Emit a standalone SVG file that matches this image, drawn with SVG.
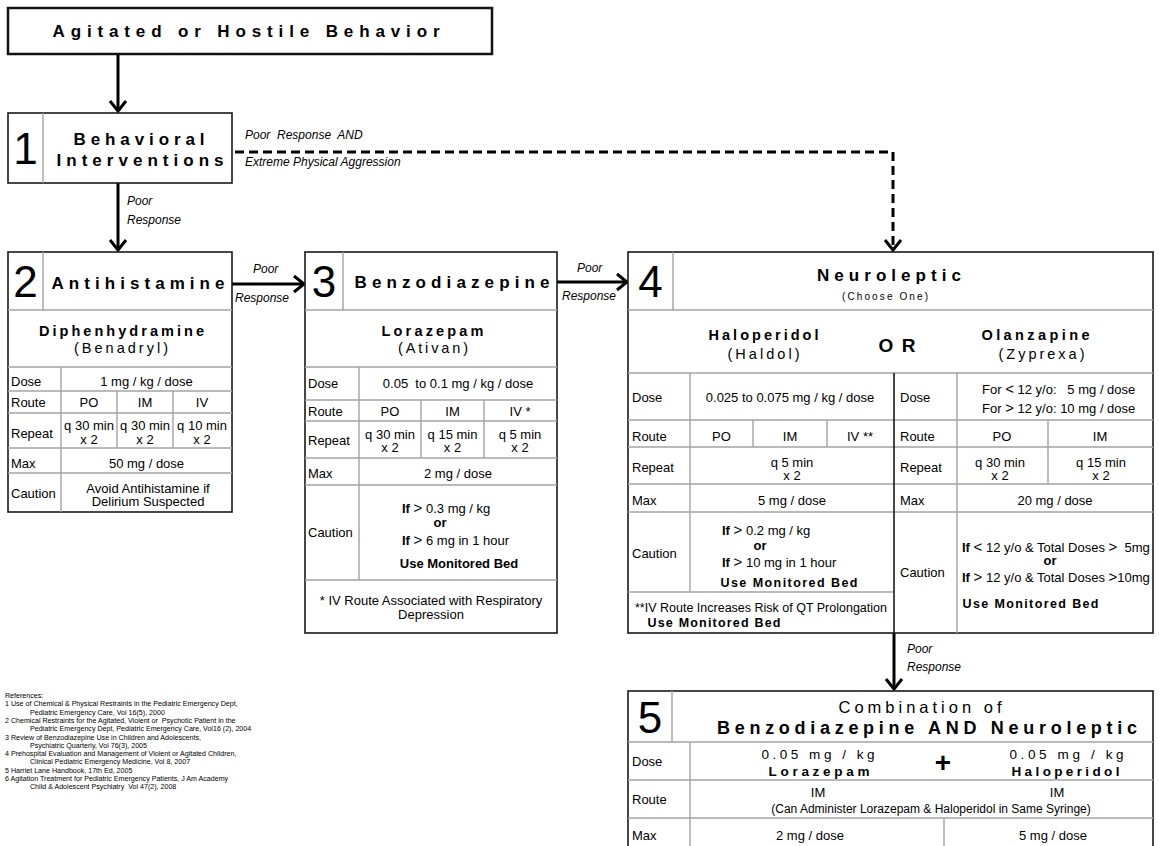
<svg xmlns="http://www.w3.org/2000/svg" width="1159" height="846" viewBox="0 0 1159 846">
<style>
.t{font-family:"Liberation Sans",Arial,sans-serif;font-size:13px;fill:#000}
.c{text-anchor:middle}
.b{font-weight:bold}
.i{font-style:italic;font-size:12px}
.num{font-size:44px}
.ref{font-size:7.1px}
.box{fill:#fff;stroke:#1a1a1a;stroke-width:1.6}
.grid{stroke:#a3a3a3;stroke-width:1.4}
.dark{stroke:#1a1a1a;stroke-width:1.6}
.gt{font-size:15px}
.h1{font-size:17px}
.h2{font-size:14.5px}
.mb{font-size:12.5px}
.conn{fill:none;stroke:#000;stroke-width:3}
.dash{stroke-dasharray:9 5}
</style>
<defs>
<marker id="arr" markerUnits="userSpaceOnUse" markerWidth="22" markerHeight="22" viewBox="0 0 22 22" refX="18" refY="11" orient="auto">
<path d="M8,3 L18,11 L8,19" fill="none" stroke="#000" stroke-width="3"/>
</marker>
</defs>
<rect width="1159" height="846" fill="#fff"/>

<g id="connectors">
<line class="conn" x1="118" y1="54" x2="118" y2="111" marker-end="url(#arr)"/>
<line class="conn" x1="118" y1="183" x2="118" y2="250" marker-end="url(#arr)"/>
<line class="conn" x1="232" y1="284" x2="304" y2="284" marker-end="url(#arr)"/>
<line class="conn" x1="557" y1="282" x2="627" y2="282" marker-end="url(#arr)"/>
<line class="conn" x1="894" y1="633" x2="894" y2="689" marker-end="url(#arr)"/>
<path class="conn dash" d="M235,152 H893 V250" marker-end="url(#arr)"/>
<text x="127" y="205" class="t i">Poor</text>
<text x="127" y="224" class="t i">Response</text>
<text x="245" y="139" class="t i" xml:space="preserve">Poor  Response  AND</text>
<text x="245" y="166" class="t i">Extreme Physical Aggression</text>
<text x="253" y="273" class="t i">Poor</text>
<text x="235" y="302" class="t i">Response</text>
<text x="577" y="272" class="t i">Poor</text>
<text x="562" y="300" class="t i">Response</text>
<text x="907" y="653" class="t i">Poor</text>
<text x="907" y="671" class="t i">Response</text>
</g>

<g id="start">
<rect x="8" y="8" width="484" height="46" fill="#fff" stroke="#111" stroke-width="2.5"/>
<text x="246" y="37" class="t c b h1" textLength="387" lengthAdjust="spacing">Agitated or Hostile Behavior</text>
</g>

<g id="step1">
<rect x="8" y="113" width="224" height="70" class="box"/>
<line x1="43" y1="113" x2="43" y2="183" class="grid"/>
<text x="25.5" y="164" class="t c num">1</text>
<text x="139" y="145" class="t c b h1" textLength="131" lengthAdjust="spacing">Behavioral</text>
<text x="140" y="166" class="t c b h1" textLength="167" lengthAdjust="spacing">Interventions</text>
</g>

<g id="step2">
<rect x="8" y="252" width="224" height="260" class="box"/>
<line x1="43" y1="252" x2="43" y2="310" class="grid"/>
<line x1="8" y1="310" x2="232" y2="310" class="grid"/>
<line x1="8" y1="367" x2="232" y2="367" class="grid"/>
<line x1="8" y1="391" x2="232" y2="391" class="grid"/>
<line x1="8" y1="413" x2="232" y2="413" class="grid"/>
<line x1="8" y1="448" x2="232" y2="448" class="grid"/>
<line x1="8" y1="473" x2="232" y2="473" class="grid"/>
<line x1="61" y1="367" x2="61" y2="512" class="grid"/>
<line x1="117" y1="391" x2="117" y2="448" class="grid"/>
<line x1="173" y1="391" x2="173" y2="448" class="grid"/>
<text x="25.5" y="297" class="t c num">2</text>
<text x="138" y="289" class="t c b h1" textLength="173" lengthAdjust="spacing">Antihistamine</text>
<text x="121.5" y="336" class="t c b h2" textLength="165" lengthAdjust="spacing">Diphenhydramine</text>
<text x="121" y="353" class="t c h2" textLength="94" lengthAdjust="spacing">(Benadryl)</text>
<text x="11" y="385.5" class="t">Dose</text>
<text x="146.5" y="385.5" class="t c">1 mg / kg / dose</text>
<text x="11" y="406.5" class="t">Route</text>
<text x="89" y="406.5" class="t c">PO</text>
<text x="145" y="406.5" class="t c">IM</text>
<text x="202" y="406.5" class="t c">IV</text>
<text x="11" y="437.5" class="t">Repeat</text>
<text x="89" y="429.5" class="t c">q 30 min</text>
<text x="89" y="443.5" class="t c">x 2</text>
<text x="145" y="429.5" class="t c">q 30 min</text>
<text x="145" y="443.5" class="t c">x 2</text>
<text x="202" y="429.5" class="t c">q 10 min</text>
<text x="202" y="443.5" class="t c">x 2</text>
<text x="11" y="467.5" class="t">Max</text>
<text x="146.5" y="467.5" class="t c">50 mg / dose</text>
<text x="11" y="497.5" class="t">Caution</text>
<text x="148" y="492.5" class="t c">Avoid Antihistamine if</text>
<text x="148" y="505.5" class="t c">Delirium Suspected</text>
</g>

<g id="step3">
<rect x="305" y="252" width="252" height="381" class="box"/>
<line x1="343" y1="252" x2="343" y2="310" class="grid"/>
<line x1="305" y1="310" x2="557" y2="310" class="grid"/>
<line x1="305" y1="367" x2="557" y2="367" class="grid"/>
<line x1="305" y1="400" x2="557" y2="400" class="grid"/>
<line x1="305" y1="421" x2="557" y2="421" class="grid"/>
<line x1="305" y1="458" x2="557" y2="458" class="grid"/>
<line x1="305" y1="485" x2="557" y2="485" class="grid"/>
<line x1="305" y1="580" x2="557" y2="580" class="grid"/>
<line x1="359" y1="367" x2="359" y2="580" class="grid"/>
<line x1="421" y1="400" x2="421" y2="458" class="grid"/>
<line x1="484" y1="400" x2="484" y2="458" class="grid"/>
<text x="324" y="297" class="t c num">3</text>
<text x="452" y="288" class="t c b h1" textLength="195" lengthAdjust="spacing">Benzodiazepine</text>
<text x="432.5" y="336" class="t c b h2" textLength="102" lengthAdjust="spacing">Lorazepam</text>
<text x="433" y="353" class="t c h2" textLength="70" lengthAdjust="spacing">(Ativan)</text>
<text x="308" y="388" class="t">Dose</text>
<text x="458" y="388" class="t c" xml:space="preserve">0.05  to 0.1 mg / kg / dose</text>
<text x="308" y="415.5" class="t">Route</text>
<text x="390" y="415.5" class="t c">PO</text>
<text x="452.5" y="415.5" class="t c">IM</text>
<text x="520" y="415.5" class="t c">IV *</text>
<text x="308" y="445" class="t">Repeat</text>
<text x="390" y="438.5" class="t c">q 30 min</text>
<text x="390" y="451.5" class="t c">x 2</text>
<text x="452.5" y="438.5" class="t c">q 15 min</text>
<text x="452.5" y="451.5" class="t c">x 2</text>
<text x="520" y="438.5" class="t c">q 5 min</text>
<text x="520" y="451.5" class="t c">x 2</text>
<text x="308" y="477.5" class="t">Max</text>
<text x="458" y="477.5" class="t c">2 mg / dose</text>
<text x="308" y="536.5" class="t">Caution</text>
<text x="402" y="512.5" class="t"><tspan class="b">If</tspan> <tspan class="gt">&gt;</tspan> 0.3 mg / kg</text>
<text x="440" y="527" class="t c b">or</text>
<text x="402" y="544.5" class="t"><tspan class="b">If</tspan> <tspan class="gt">&gt;</tspan> 6 mg in 1 hour</text>
<text x="459" y="567.5" class="t c b">Use Monitored Bed</text>
<text x="431" y="604.5" class="t c">* IV Route Associated with Respiratory</text>
<text x="431" y="618.5" class="t c">Depression</text>
</g>

<g id="step4">
<rect x="628" y="252" width="525" height="381" class="box"/>
<line x1="673" y1="252" x2="673" y2="310" class="grid"/>
<line x1="628" y1="310" x2="1153" y2="310" class="grid"/>
<line x1="628" y1="373" x2="1153" y2="373" class="grid"/>
<line x1="628" y1="420" x2="1153" y2="420" class="grid"/>
<line x1="628" y1="447" x2="1153" y2="447" class="grid"/>
<line x1="628" y1="484" x2="1153" y2="484" class="grid"/>
<line x1="628" y1="512" x2="1153" y2="512" class="grid"/>
<line x1="628" y1="592" x2="894" y2="592" class="grid"/>
<line x1="690" y1="373" x2="690" y2="592" class="grid"/>
<line x1="753" y1="420" x2="753" y2="447" class="grid"/>
<line x1="827" y1="420" x2="827" y2="447" class="grid"/>
<line x1="957" y1="373" x2="957" y2="633" class="grid"/>
<line x1="1048" y1="420" x2="1048" y2="484" class="grid"/>
<line x1="894" y1="373" x2="894" y2="633" class="dark"/>
<text x="650.5" y="297" class="t c num">4</text>
<text x="889" y="281" class="t c b h1" textLength="144" lengthAdjust="spacing">Neuroleptic</text>
<text x="885" y="300" class="t c" style="font-size:10px" textLength="86" lengthAdjust="spacing">(Choose One)</text>
<text x="763.5" y="340" class="t c b h2" textLength="110" lengthAdjust="spacing">Haloperidol</text>
<text x="763.5" y="359" class="t c h2" textLength="72" lengthAdjust="spacing">(Haldol)</text>
<text x="897" y="352" class="t c b" style="font-size:19px" textLength="37" lengthAdjust="spacing">OR</text>
<text x="1035.5" y="340" class="t c b h2" textLength="108" lengthAdjust="spacing">Olanzapine</text>
<text x="1041.5" y="359" class="t c h2" textLength="86" lengthAdjust="spacing">(Zyprexa)</text>
<text x="632" y="401.5" class="t">Dose</text>
<text x="790" y="401.5" class="t c">0.025 to 0.075 mg / kg / dose</text>
<text x="632" y="440.5" class="t">Route</text>
<text x="721.5" y="440.5" class="t c">PO</text>
<text x="790" y="440.5" class="t c">IM</text>
<text x="860" y="440.5" class="t c">IV **</text>
<text x="632" y="472" class="t">Repeat</text>
<text x="792" y="466.5" class="t c">q 5 min</text>
<text x="792" y="479.5" class="t c">x 2</text>
<text x="632" y="504.5" class="t">Max</text>
<text x="792" y="504.5" class="t c">5 mg / dose</text>
<text x="632" y="557.5" class="t">Caution</text>
<text x="722" y="534.5" class="t"><tspan class="b">If</tspan> <tspan class="gt">&gt;</tspan> 0.2 mg / kg</text>
<text x="760" y="549.5" class="t c b">or</text>
<text x="722" y="566.5" class="t"><tspan class="b">If</tspan> <tspan class="gt">&gt;</tspan> 10 mg in 1 hour</text>
<text x="789" y="586.5" class="t c b mb" textLength="137" lengthAdjust="spacing">Use Monitored Bed</text>
<text x="635" y="611.5" class="t" style="font-size:12.5px">**IV Route Increases Risk of QT Prolongation</text>
<text x="714" y="626.5" class="t c b mb" textLength="133" lengthAdjust="spacing">Use Monitored Bed</text>
<text x="900" y="401.5" class="t">Dose</text>
<text x="982" y="393.5" class="t" xml:space="preserve">For <tspan class="gt">&lt;</tspan> 12 y/o:   5 mg / dose</text>
<text x="982" y="412.5" class="t" xml:space="preserve">For <tspan class="gt">&gt;</tspan> 12 y/o: 10 mg / dose</text>
<text x="900" y="440.5" class="t">Route</text>
<text x="1002" y="440.5" class="t c">PO</text>
<text x="1100" y="440.5" class="t c">IM</text>
<text x="900" y="472" class="t">Repeat</text>
<text x="1000" y="466.5" class="t c">q 30 min</text>
<text x="1000" y="479.5" class="t c">x 2</text>
<text x="1101" y="466.5" class="t c">q 15 min</text>
<text x="1101" y="479.5" class="t c">x 2</text>
<text x="900" y="504.5" class="t">Max</text>
<text x="1055" y="504.5" class="t c">20 mg / dose</text>
<text x="900" y="576.5" class="t">Caution</text>
<text x="962" y="551.5" class="t" xml:space="preserve"><tspan class="b">If</tspan> <tspan class="gt">&lt;</tspan> 12 y/o &amp; Total Doses <tspan class="gt">&gt;</tspan>  5mg</text>
<text x="1050" y="564.5" class="t c b">or</text>
<text x="962" y="581.5" class="t" xml:space="preserve"><tspan class="b">If</tspan> <tspan class="gt">&gt;</tspan> 12 y/o &amp; Total Doses <tspan class="gt">&gt;</tspan>10mg</text>
<text x="1030.5" y="607.5" class="t c b mb" textLength="136" lengthAdjust="spacing">Use Monitored Bed</text>
</g>

<g id="step5">
<rect x="628" y="691" width="525" height="160" class="box"/>
<line x1="672" y1="691" x2="672" y2="742" class="grid"/>
<line x1="628" y1="742" x2="1153" y2="742" class="grid"/>
<line x1="628" y1="780" x2="1153" y2="780" class="grid"/>
<line x1="628" y1="818" x2="1153" y2="818" class="grid"/>
<line x1="690" y1="742" x2="690" y2="851" class="grid"/>
<line x1="944" y1="818" x2="944" y2="851" class="grid"/>
<text x="650" y="733" class="t c num">5</text>
<text x="920" y="713" class="t c" style="font-size:16.5px" textLength="163" lengthAdjust="spacing">Combination of</text>
<text x="927" y="734" class="t c b" style="font-size:18px" textLength="420" lengthAdjust="spacing">Benzodiazepine AND Neuroleptic</text>
<text x="632" y="765.5" class="t">Dose</text>
<text x="818" y="759" class="t c" style="font-size:13.5px" textLength="113" lengthAdjust="spacing">0.05 mg / kg</text>
<text x="819" y="775.5" class="t c b" style="font-size:13.5px" textLength="101" lengthAdjust="spacing">Lorazepam</text>
<text x="943" y="772" class="t c b" style="font-size:28px">+</text>
<text x="1066.5" y="759" class="t c" style="font-size:13.5px" textLength="114" lengthAdjust="spacing">0.05 mg / kg</text>
<text x="1065.5" y="775.5" class="t c b" style="font-size:13.5px" textLength="108" lengthAdjust="spacing">Haloperidol</text>
<text x="632" y="803.5" class="t">Route</text>
<text x="818" y="797" class="t c">IM</text>
<text x="1057" y="797" class="t c">IM</text>
<text x="931" y="812.5" class="t c" style="font-size:12px">(Can Administer Lorazepam &amp; Haloperidol in Same Syringe)</text>
<text x="632" y="839.5" class="t">Max</text>
<text x="810" y="839.5" class="t c">2 mg / dose</text>
<text x="1053" y="839.5" class="t c">5 mg / dose</text>
</g>

<g id="references">
<text x="5" y="698" class="t ref">References:</text>
<text x="5" y="706.3" class="t ref">1 Use of Chemical &amp; Physical Restraints in the Pediatric Emergency Dept,</text>
<text x="30" y="714.6" class="t ref">Pediatric Emergency Care, Vol 16(5), 2000</text>
<text x="5" y="722.9" class="t ref" xml:space="preserve">2 Chemical Restraints for the Agitated, Violent or  Psychotic Patient in the</text>
<text x="30" y="731.2" class="t ref">Pediatric Emergency Dept, Pediatric Emergency Care, Vol16 (2), 2004</text>
<text x="5" y="739.5" class="t ref">3 Review of Benzodiazepine Use in Children and Adolescents,</text>
<text x="30" y="747.8" class="t ref">Psychiatric Quarterly, Vol 76(3), 2005</text>
<text x="5" y="756.1" class="t ref">4 Prehospital Evaluation and Management of Violent or Agitated Children,</text>
<text x="30" y="764.4" class="t ref">Clinical Pediatric Emergency Medicine, Vol 8, 2007</text>
<text x="5" y="772.7" class="t ref">5 Harriet Lane Handbook, 17th Ed, 2005</text>
<text x="5" y="781" class="t ref">6 Agitation Treatment for Pediatric Emergency Patients, J Am Academy</text>
<text x="30" y="789.3" class="t ref" xml:space="preserve">Child &amp; Adolescent Psychiatry  Vol 47(2), 2008</text>
</g>
</svg>
